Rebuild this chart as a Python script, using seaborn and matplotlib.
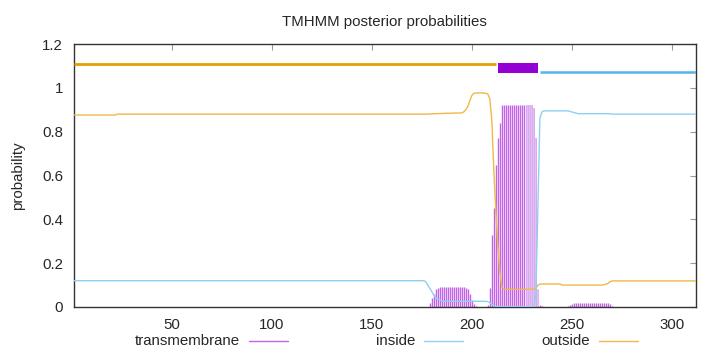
import numpy as np
import pandas as pd
import matplotlib
matplotlib.use("Agg")
import matplotlib.pyplot as plt
from matplotlib.lines import Line2D
import seaborn as sns

# ---------------- data ----------------
n_res = 312
residues = list(range(1, n_res + 1))

# outside posterior probability (orange), per residue
outside = ([0.876] * 22 + [0.880] * 156 +                      # 1-178
           [0.881, 0.881, 0.882, 0.882, 0.882, 0.883, 0.883, 0.883,
            0.884, 0.884, 0.884, 0.884, 0.885, 0.885, 0.885, 0.885] +   # 179-194
           [0.886, 0.890, 0.900, 0.915, 0.940, 0.965] +              # 195-200
           [0.975, 0.976, 0.977, 0.977, 0.977, 0.976, 0.975, 0.972] + # 201-208
           [0.950, 0.850, 0.620, 0.440, 0.280, 0.160, 0.090, 0.082] + # 209-216
           [0.081] * 15 +                                           # 217-231
           [0.085, 0.100, 0.104] +                                  # 232-234
           [0.105] * 10 +                                           # 235-244
           [0.100] * 21 +                                           # 245-265
           [0.102, 0.104, 0.108, 0.115] +                           # 266-269
           [0.119] * 43)                                            # 270-312

# inside posterior probability (light blue), per residue
inside = ([0.120] * 176 +                                           # 1-176
          [0.115, 0.100, 0.085, 0.070, 0.055, 0.042, 0.035, 0.032] + # 177-184
          [0.026] * 23 +                                            # 185-207
          [0.024, 0.020, 0.012, 0.006, 0.003] +                     # 208-212
          [0.001] * 19 +                                            # 213-231
          [0.050, 0.460, 0.860, 0.890] +                            # 232-235
          [0.895] * 13 +                                            # 236-248
          [0.893, 0.890, 0.887, 0.885] +                            # 249-252
          [0.882] * 17 +                                            # 253-269
          [0.880] * 43)                                             # 270-312

# transmembrane posterior probability (impulses), per residue
transmembrane = ([0.002] * 20 + [0.001] * 158 +                     # 1-178
                 [0.020, 0.040, 0.060, 0.080, 0.088] +              # 179-183
                 [0.090] * 13 +                                     # 184-196
                 [0.088, 0.080, 0.060, 0.030, 0.015, 0.005] +       # 197-202
                 [0.001] * 5 +                                      # 203-207
                 [0.010, 0.085, 0.330, 0.450, 0.650, 0.770, 0.840] + # 208-214
                 [0.920] * 16 +                                     # 215-230
                 [0.910, 0.770, 0.080, 0.010, 0.005] +              # 231-235
                 [0.001] * 12 +                                     # 236-247
                 [0.006, 0.010, 0.014] + [0.016] * 18 +             # 248-268
                 [0.012, 0.006] +                                   # 269-270
                 [0.001] * 42)                                      # 271-312

# residues drawn with the light fill in the helix core
light_fill_start, light_fill_end = 227, 233

# predicted topology (top bars)
topo_labels = ["outside", "TMhelix", "inside"]
topo_starts = [1, 213, 234]
topo_ends = [212, 233, 312]

x_ticks = [50, 100, 150, 200, 250, 300]
y_ticks = [0, 0.2, 0.4, 0.6, 0.8, 1.0, 1.2]
y_tick_labels = ["0", "0.2", "0.4", "0.6", "0.8", "1", "1.2"]
legend_labels = ["transmembrane", "inside", "outside"]

# ---------------- style ----------------
sns.set_style("white")
plt.rcParams["font.family"] = ["Liberation Sans", "DejaVu Sans"]
fs = 10.8
plt.rcParams["font.size"] = fs

c_tm = "#c264e6"
c_tm_light = "#e2c0f4"
c_in = "#8fd0f0"
c_out = "#f0b848"
c_top_out = "#e69f00"
c_top_tm = "#9400d3"
c_top_in = "#56b4e9"

fig = plt.figure(figsize=(7.2, 3.52), dpi=100)
ax = fig.add_axes([73.5 / 720, 1 - 307 / 352, (696 - 73.5) / 720, (307 - 44) / 352])

df = pd.DataFrame({"residue": residues, "inside": inside,
                   "outside": outside, "transmembrane": transmembrane})

# transmembrane impulses
tm_arr = np.array(transmembrane)
res_arr = np.array(residues)
light = (res_arr >= light_fill_start) & (res_arr <= light_fill_end)
ax.fill_between(res_arr[light], 0, tm_arr[light], step="mid",
                color=c_tm_light, lw=0, zorder=1)
ax.vlines(res_arr[~light], 0, tm_arr[~light], color=c_tm, lw=1.0, zorder=2)
ax.vlines(res_arr[light], 0, tm_arr[light], color="#d9a6f0", lw=0.6, zorder=2)

# posterior lines
sns.lineplot(data=df, x="residue", y="outside", color=c_out, lw=1.0, ax=ax,
             zorder=3, estimator=None)
sns.lineplot(data=df, x="residue", y="inside", color=c_in, lw=1.0, ax=ax,
             zorder=3, estimator=None)

# topology bars
for lab, s, e in zip(topo_labels, topo_starts, topo_ends):
    if lab == "outside":
        ax.plot([s, e], [1.111, 1.111], color=c_top_out, lw=2.0,
                solid_capstyle="butt", zorder=4)
    elif lab == "inside":
        ax.plot([s, e], [1.072, 1.072], color=c_top_in, lw=1.8,
                solid_capstyle="butt", zorder=4)
    else:
        ax.fill_between([s, e], 1.067, 1.115, color=c_top_tm, lw=0, zorder=4)

ax.set_xlim(1, 312)
ax.set_ylim(0, 1.2)
ax.set_xticks(x_ticks)
ax.set_yticks(y_ticks)
ax.set_yticklabels(y_tick_labels)
ax.set_xlabel("")
ax.set_ylabel("probability", fontsize=fs, labelpad=12)
ax.set_title("TMHMM posterior probabilities", fontsize=fs, pad=13)
ax.tick_params(direction="in", length=4, width=0.8, color="#999999",
               top=True, right=True, labelsize=fs, pad=7.5)
ax.tick_params(axis="x", pad=8)
for sp in ax.spines.values():
    sp.set_color("#333333")
    sp.set_linewidth(1.0)
    sp.set_visible(True)

# gnuplot-like legend below the plot
leg_colors = [c_tm, c_in, c_out]
leg_y = 1 - 341 / 352
for i, (lab, col) in enumerate(zip(legend_labels, leg_colors)):
    line_x0 = 249 + i * 175
    line_x1 = line_x0 + 39
    fig.add_artist(Line2D([line_x0 / 720, line_x1 / 720], [leg_y, leg_y],
                          transform=fig.transFigure, color=col, lw=1.0))
    fig.text((line_x0 - 9) / 720, leg_y, lab, ha="right", va="center",
             fontsize=fs)

fig.savefig("out.png", dpi=100)
